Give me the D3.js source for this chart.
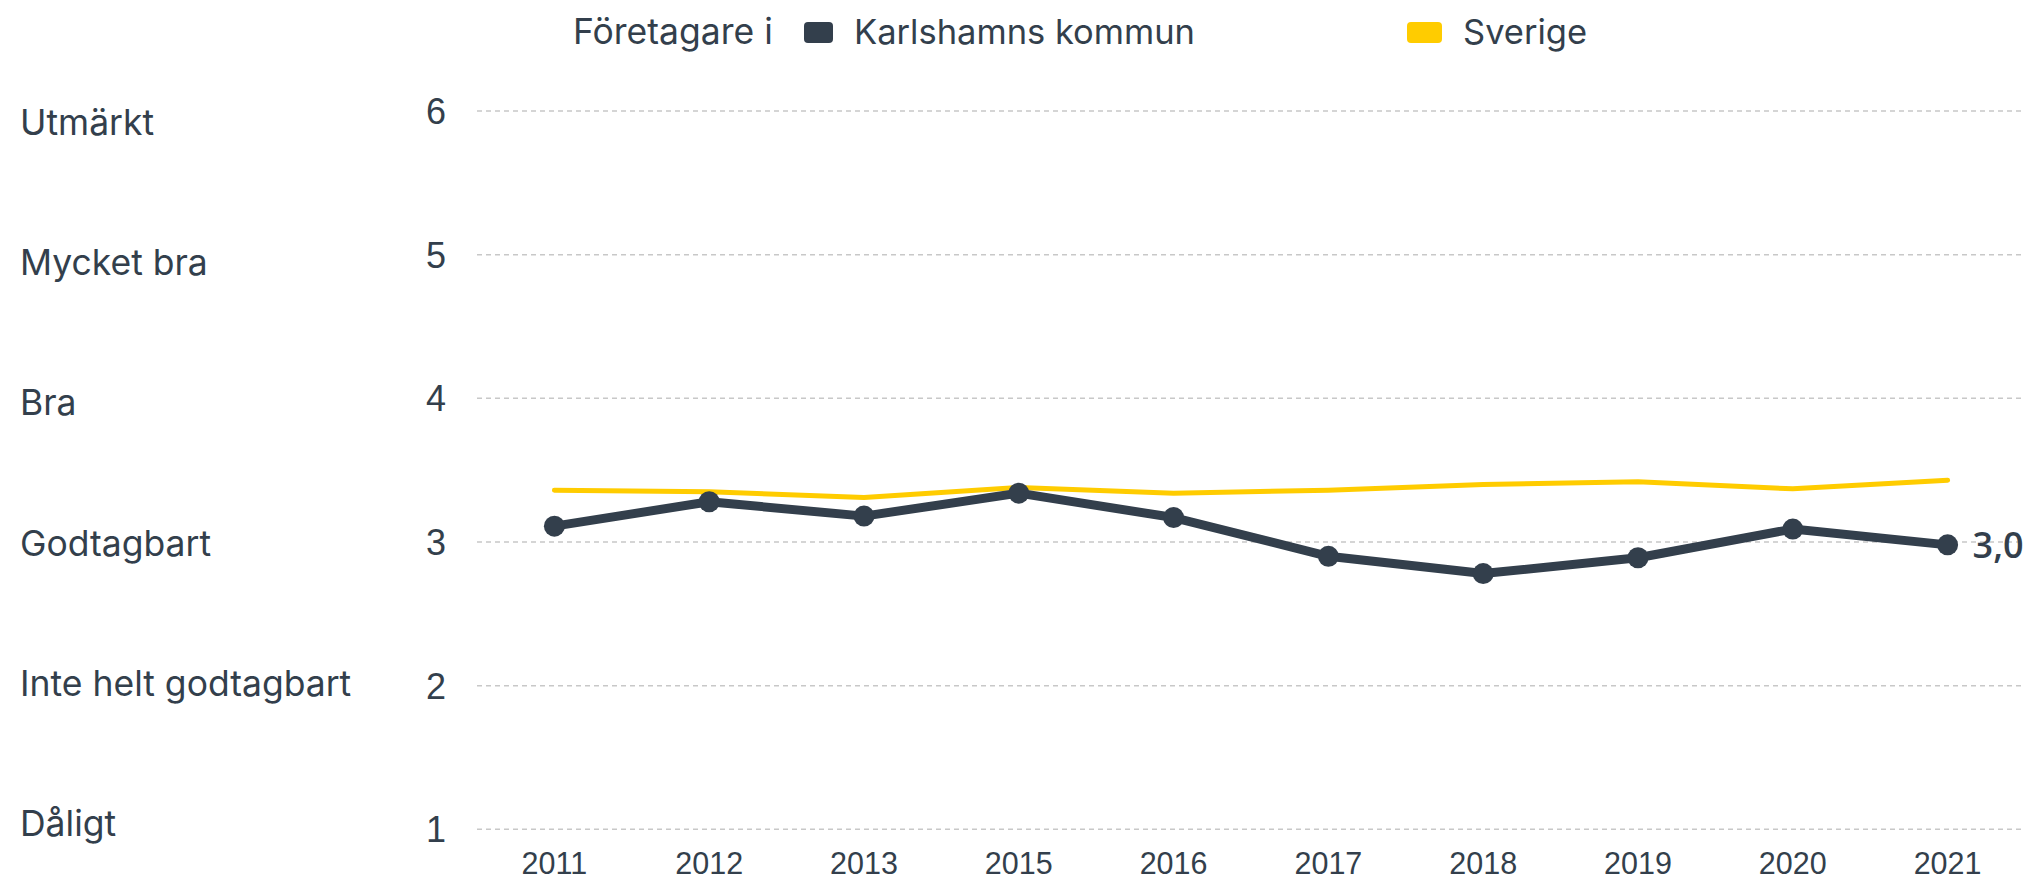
<!DOCTYPE html>
<html>
<head>
<meta charset="utf-8">
<script src="https://cdn.jsdelivr.net/npm/d3@7"></script>
<style>
  body { margin: 0; background: #fff; }
  svg { display: block; }
</style>
</head>
<body>
<script>
// Data
const years = ["2011", "2012", "2013", "2015", "2016", "2017", "2018", "2019", "2020", "2021"];
const karlshamn = [3.11, 3.28, 3.18, 3.34, 3.17, 2.90, 2.78, 2.89, 3.09, 2.98];
const sverige = [3.36, 3.35, 3.31, 3.38, 3.34, 3.36, 3.40, 3.42, 3.37, 3.43];
const levels = ["Utmärkt", "Mycket bra", "Bra", "Godtagbart", "Inte helt godtagbart", "Dåligt"];
const yTicks = [1, 2, 3, 4, 5, 6];
const legendTitle = "Företagare i";
const seriesNames = ["Karlshamns kommun", "Sverige"];

const width = 2032, height = 882;
const dark = "#333f4c", yellow = "#ffcc00";
const uiFont = "Inter, 'Noto Sans', sans-serif";
const axisFont = "'Liberation Sans', Arial, sans-serif";

const svg = d3.select("body").append("svg")
  .attr("width", width)
  .attr("height", height);

const x = d3.scalePoint().domain(years).range([477, 2025]).padding(0.5);
const y = d3.scaleLinear().domain([1, 6]).range([829.3, 111]);
// the word labels on the left sit on their own even spacing
const yLevel = d3.scaleLinear().domain([6, 1]).range([135, 836]);

// gridlines
svg.append("g")
  .selectAll("line")
  .data(yTicks)
  .join("line")
  .attr("x1", x.range()[0])
  .attr("x2", x.range()[1])
  .attr("y1", d => y(d))
  .attr("y2", d => y(d))
  .attr("stroke", "#c8c8c8")
  .attr("stroke-width", 1.5)
  .attr("stroke-dasharray", "5,4");

// numeric y ticks
svg.append("g")
  .selectAll("text")
  .data(yTicks)
  .join("text")
  .attr("x", 446)
  .attr("y", d => y(d))
  .attr("dy", "0.36em")
  .attr("text-anchor", "end")
  .style("font", `36px ${axisFont}`)
  .attr("fill", dark)
  .text(d => d);

// word labels
svg.append("g")
  .selectAll("text")
  .data(levels)
  .join("text")
  .attr("x", 20)
  .attr("y", (d, i) => yLevel(6 - i))
  .style("font", `35.5px ${uiFont}`)
  .attr("fill", dark)
  .text(d => d);

// x axis labels
svg.append("g")
  .selectAll("text")
  .data(years)
  .join("text")
  .attr("x", d => x(d))
  .attr("y", 874)
  .attr("text-anchor", "middle")
  .style("font", `30.5px ${axisFont}`)
  .attr("fill", dark)
  .text(d => d);

const line = d3.line()
  .x((d, i) => x(years[i]))
  .y(d => y(d));

// Sverige
svg.append("path")
  .datum(sverige)
  .attr("d", line)
  .attr("fill", "none")
  .attr("stroke", yellow)
  .attr("stroke-width", 5)
  .attr("stroke-linecap", "round")
  .attr("stroke-linejoin", "round");

// Karlshamns kommun
svg.append("path")
  .datum(karlshamn)
  .attr("d", line)
  .attr("fill", "none")
  .attr("stroke", dark)
  .attr("stroke-width", 9)
  .attr("stroke-linejoin", "round");

svg.append("g")
  .selectAll("circle")
  .data(karlshamn)
  .join("circle")
  .attr("cx", (d, i) => x(years[i]))
  .attr("cy", d => y(d))
  .attr("r", 10.5)
  .attr("fill", dark);

// value label at the end
const last = karlshamn.length - 1;
svg.append("text")
  .attr("x", x(years[last]) + 25)
  .attr("y", y(karlshamn[last]))
  .attr("dy", "0.36em")
  .style("font", "600 36px 'Open Sans', Lato, sans-serif")
  .attr("fill", dark)
  .text(d3.format(".1f")(karlshamn[last]).replace(".", ","));

// legend
svg.append("text")
  .attr("x", 573)
  .attr("y", 44)
  .style("font", `35.5px ${uiFont}`)
  .attr("fill", dark)
  .text(legendTitle);

const legendX = d3.scalePoint().domain(seriesNames).range([804, 1407]);
const legendColor = d3.scaleOrdinal().domain(seriesNames).range([dark, yellow]);
const legendW = d3.scaleOrdinal().domain(seriesNames).range([29, 35]);

const item = svg.append("g")
  .selectAll("g")
  .data(seriesNames)
  .join("g")
  .attr("transform", d => `translate(${legendX(d)},0)`);

item.append("rect")
  .attr("y", 22)
  .attr("width", d => legendW(d))
  .attr("height", 21)
  .attr("rx", 4)
  .attr("fill", d => legendColor(d));

item.append("text")
  .attr("x", d => legendW(d) + 21)
  .attr("y", 44)
  .style("font", `34.5px ${uiFont}`)
  .attr("fill", dark)
  .text(d => d);
</script>
</body>
</html>
